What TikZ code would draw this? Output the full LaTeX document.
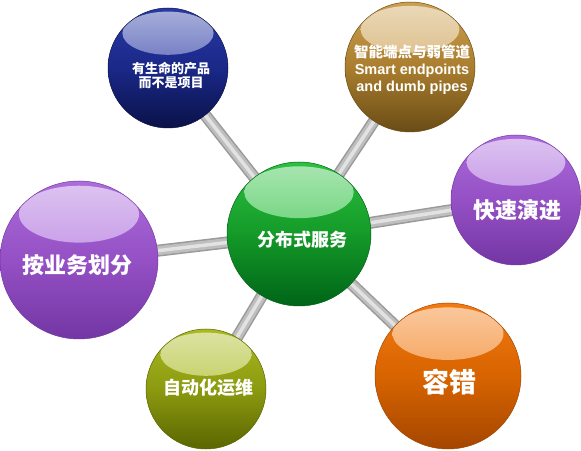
\documentclass[tikz,border=0pt]{standalone}
\usepackage{fontspec}
\setmainfont{Liberation Sans}
\newfontfamily\cjk{Noto Sans CJK SC}
\usetikzlibrary{calc,backgrounds}
\definecolor{gT}{HTML}{2CC040}\definecolor{gM}{HTML}{149A28}\definecolor{gB}{HTML}{006418}
\definecolor{bT}{HTML}{2A3AA4}\definecolor{bM}{HTML}{1A2888}\definecolor{bB}{HTML}{0A1248}
\definecolor{oT}{HTML}{CCA052}\definecolor{oM}{HTML}{AA7E2E}\definecolor{oB}{HTML}{6A4C16}
\definecolor{pT}{HTML}{AC6CDC}\definecolor{pM}{HTML}{9450C4}\definecolor{pB}{HTML}{7436A4}
\definecolor{yT}{HTML}{AABA20}\definecolor{yM}{HTML}{8C9A10}\definecolor{yB}{HTML}{5A6600}
\definecolor{rT}{HTML}{F27A12}\definecolor{rM}{HTML}{D86400}\definecolor{rB}{HTML}{A44600}
\definecolor{barD}{HTML}{9A9A9A}\definecolor{barM}{HTML}{BEBEBE}\definecolor{barL}{HTML}{E2E2E2}
\begin{document}
\begin{tikzpicture}[x=1pt,y=1pt,
  sphere/.style n args={4}{circle, inner sep=0pt, minimum size=2*#4,
    top color=#1, bottom color=#3, middle color=#2, draw=#3, line width=0.5pt,
    path picture={\shade[top color=white!60!#1, bottom color=#1]
      ($(path picture bounding box.center)+(0,0.58*#4)$)
      ellipse [x radius=0.76*#4, y radius=0.36*#4];}},
  lbl/.style={text=white, align=center, font=\cjk\bfseries},
  barout/.style={line width=12pt, color=barD},
  barmid/.style={line width=9pt, color=barM},
  barin/.style={line width=3.5pt, color=barL}
]
\useasboundingbox (0,0) rectangle (581,450);

\node[sphere={gT}{gM}{gB}{72pt}] (g) at (299,216) {};
\node[sphere={bT}{bM}{bB}{60pt}] (b) at (168,382) {};
\node[sphere={oT}{oM}{oB}{65pt}] (o) at (410,383) {};
\node[sphere={pT}{pM}{pB}{65pt}] (rp) at (516,250) {};
\node[sphere={pT}{pM}{pB}{79pt}] (lp) at (79,190) {};
\node[sphere={yT}{yM}{yB}{60pt}] (y) at (206,61) {};
\node[sphere={rT}{rM}{rB}{73pt}] (r) at (448,74) {};

\begin{scope}[on background layer]
  \fill[white] (0,0) rectangle (581,450);
  \foreach \t in {b,o,rp,lp,y,r}{
    \draw[barout] (g.center) -- (\t.center);
    \draw[barmid] (g.center) -- (\t.center);
    \draw[barin] (g.center) -- (\t.center);
  }
\end{scope}

\node[lbl, font=\cjk\bfseries\fontsize{18}{20}\selectfont] (gt) at (302,210) {分布式服务};
\node[lbl, font=\cjk\bfseries\fontsize{13}{14}\selectfont] (bt) at (171,375) {有生命的产品\\而不是项目};
\node[lbl, font=\bfseries\fontsize{14.5}{17}\selectfont] (ot) at (412,380) {{\cjk 智能端点与弱管道}\\Smart endpoints\\and dumb pipes};
\node[lbl, font=\cjk\bfseries\fontsize{22}{24}\selectfont] (rpt) at (517,240) {快速演进};
\node[lbl, font=\cjk\bfseries\fontsize{22}{24}\selectfont] (lpt) at (78,185) {按业务划分};
\node[lbl, font=\cjk\bfseries\fontsize{18}{20}\selectfont] (yt) at (208,62) {自动化运维};
\node[lbl, font=\cjk\bfseries\fontsize{27}{29}\selectfont] (rt) at (449,68) {容错};
\end{tikzpicture}
\end{document}
